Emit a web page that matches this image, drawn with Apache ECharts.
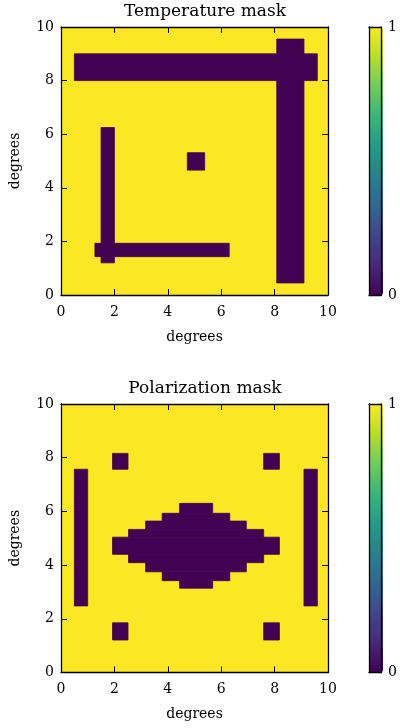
<!DOCTYPE html>
<html>
<head>
<meta charset="utf-8">
<script src="https://cdn.jsdelivr.net/npm/echarts@6/dist/echarts.min.js"></script>
<style>
  html, body { margin: 0; padding: 0; background: #ffffff; }
  #chart { width: 400px; height: 728px; }
</style>
</head>
<body>
<div id="chart"></div>
<script>
// ---- data (degrees): masked rectangles [x0, x1, y0, y1], value 0 inside, 1 elsewhere ----
const fieldExtent = [0, 10, 0, 10];
const xTicks = [0, 2, 4, 6, 8, 10];
const yTicks = [0, 2, 4, 6, 8, 10];
const colorbarTicks = [0, 1];

const temperatureMask = [
  [0.50, 9.60, 8.00, 9.00],
  [8.08, 9.10, 0.45, 9.55],
  [1.50, 2.00, 1.20, 6.25],
  [1.27, 6.30, 1.43, 1.93],
  [4.73, 5.38, 4.66, 5.31]
];

const polarizationMask = [
  [0.50, 1.00, 2.48, 7.57],
  [9.10, 9.60, 2.48, 7.57],
  [1.93, 2.51, 7.57, 8.16],
  [7.59, 8.18, 7.57, 8.16],
  [1.93, 2.51, 1.21, 1.85],
  [7.59, 8.18, 1.21, 1.85],
  [4.44, 5.68, 5.93, 6.30],
  [3.79, 6.32, 5.64, 5.93],
  [3.17, 6.94, 5.33, 5.64],
  [2.53, 7.59, 5.04, 5.33],
  [1.93, 8.18, 4.40, 5.04],
  [2.53, 7.59, 4.09, 4.40],
  [3.17, 6.94, 3.75, 4.09],
  [3.79, 6.32, 3.42, 3.75],
  [4.44, 5.68, 3.14, 3.42]
];

const titles = ['Temperature mask', 'Polarization mask'];
const axisNames = ['degrees', 'degrees'];

const viridis = ['#440154', '#482878', '#3e4989', '#31688e', '#26828e',
                 '#1f9e89', '#35b779', '#6ece58', '#b5de2b', '#fde725'];

// ---- chart ----
const FONT = 'DejaVu Serif';
const chart = echarts.init(document.getElementById('chart'), null, { renderer: 'canvas' });

function maskData(rects) {
  return [[...fieldExtent, 1]].concat(rects.map(r => [r[0], r[1], r[2], r[3], 0]));
}

function renderRect(params, api) {
  const p0 = api.coord([api.value(0), api.value(3)]);
  const p1 = api.coord([api.value(1), api.value(2)]);
  const c = api.visual('color');
  return {
    type: 'rect',
    shape: { x: p0[0], y: p0[1], width: p1[0] - p0[0], height: p1[1] - p0[1] },
    style: { fill: c, stroke: c, lineWidth: 0.8, lineJoin: 'miter' }
  };
}

const plotGrids = [
  { left: 60, width: 268, top: 27, height: 268 },
  { left: 60, width: 268, top: 404, height: 268.5 }
];
const cbGrids = [
  { left: 369, width: 14, top: 27, height: 268 },
  { left: 369, width: 14, top: 404, height: 268.5 }
];
const titleCenterX = 205;

const lineStyle = { color: '#000', width: 1.3 };
const labelStyle = { fontFamily: FONT, fontSize: 14, color: '#000' };

const grids = [], xAxes = [], yAxes = [], series = [], visualMaps = [], titleList = [];

plotGrids.forEach((g) => grids.push(Object.assign({ containLabel: false }, g)));
cbGrids.forEach((g) => grids.push(Object.assign({ containLabel: false }, g)));

function plotXAxis(gi, pos, withLabels) {
  return {
    type: 'value', gridIndex: gi, position: pos, min: xTicks[0], max: xTicks[xTicks.length - 1],
    interval: xTicks[1] - xTicks[0], z: 10,
    axisLine: { show: true, onZero: false, lineStyle },
    axisTick: { show: true, inside: true, length: 6, lineStyle: { color: '#000', width: 1 } },
    axisLabel: withLabels ? Object.assign({ show: true, margin: 10 }, labelStyle) : { show: false },
    splitLine: { show: false },
    name: withLabels ? axisNames[0] : '',
    nameLocation: 'middle', nameGap: 35,
    nameTextStyle: labelStyle
  };
}
function plotYAxis(gi, pos, withLabels) {
  return {
    type: 'value', gridIndex: gi, position: pos, min: yTicks[0], max: yTicks[yTicks.length - 1],
    interval: yTicks[1] - yTicks[0], z: 10,
    axisLine: { show: true, onZero: false, lineStyle },
    axisTick: { show: true, inside: true, length: 6, lineStyle: { color: '#000', width: 1 } },
    axisLabel: withLabels ? Object.assign({ show: true, margin: 7 }, labelStyle) : { show: false },
    splitLine: { show: false },
    name: withLabels ? axisNames[1] : '',
    nameLocation: 'middle', nameGap: 39, nameRotate: 90,
    nameTextStyle: labelStyle
  };
}

[0, 1].forEach(i => {
  xAxes.push(plotXAxis(i, 'bottom', true));
  xAxes.push(plotXAxis(i, 'top', false));
  yAxes.push(plotYAxis(i, 'left', true));
  yAxes.push(plotYAxis(i, 'right', false));
});

// colorbar frames and labels
[2, 3].forEach(gi => {
  ['bottom', 'top'].forEach(pos => {
    xAxes.push({
      type: 'value', gridIndex: gi, position: pos, min: 0, max: 1, z: 10,
      axisLine: { show: true, onZero: false, lineStyle },
      axisTick: { show: false }, axisLabel: { show: false }, splitLine: { show: false }
    });
  });
  yAxes.push({
    type: 'value', gridIndex: gi, position: 'left', min: 0, max: 1, z: 10,
    axisLine: { show: true, onZero: false, lineStyle },
    axisTick: { show: false }, axisLabel: { show: false }, splitLine: { show: false }
  });
  yAxes.push({
    type: 'value', gridIndex: gi, position: 'right', min: colorbarTicks[0],
    max: colorbarTicks[colorbarTicks.length - 1], interval: 1, z: 10,
    axisLine: { show: true, onZero: false, lineStyle },
    axisTick: { show: true, inside: true, length: 3, lineStyle: { color: '#000', width: 1 } },
    axisLabel: Object.assign({ show: true, margin: 7 }, labelStyle),
    splitLine: { show: false }
  });
});

const masks = [temperatureMask, polarizationMask];
masks.forEach((m, i) => {
  series.push({
    type: 'custom',
    xAxisIndex: i * 2,
    yAxisIndex: i * 2,
    renderItem: renderRect,
    clip: true,
    encode: { x: [0, 1], y: [2, 3] },
    data: maskData(m),
    silent: true
  });
  visualMaps.push({
    type: 'continuous',
    min: 0, max: 1,
    dimension: 4,
    seriesIndex: i,
    inRange: { color: viridis },
    calculable: false,
    hoverLink: false,
    orient: 'vertical',
    left: cbGrids[i].left,
    top: cbGrids[i].top,
    itemWidth: cbGrids[i].width,
    itemHeight: cbGrids[i].height,
    padding: 0,
    text: null,
    showLabel: false,
    z: 2
  });
  titleList.push({
    text: titles[i],
    left: titleCenterX,
    top: plotGrids[i].top - 24,
    textAlign: 'center',
    padding: 0,
    textStyle: { fontFamily: FONT, fontSize: 17, fontWeight: 'normal', color: '#000' }
  });
});

chart.setOption({
  animation: false,
  backgroundColor: '#ffffff',
  title: titleList,
  grid: grids,
  xAxis: xAxes,
  yAxis: yAxes,
  visualMap: visualMaps,
  series: series
});
</script>
</body>
</html>
